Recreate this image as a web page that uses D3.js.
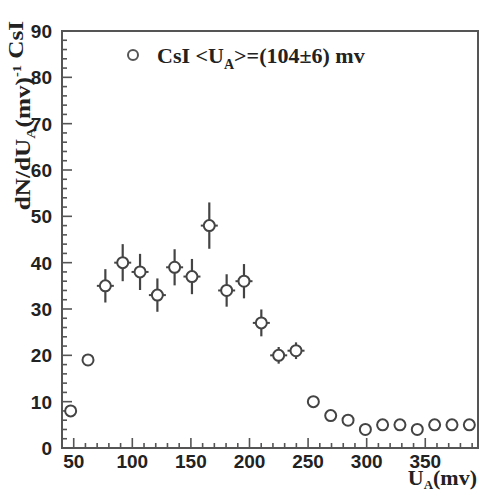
<!DOCTYPE html>
<html>
<head>
<meta charset="utf-8">
<script src="https://cdn.jsdelivr.net/npm/d3@7/dist/d3.min.js"></script>
<style>
  body { margin: 0; background: #fff; }
  .tick-label { font-family: "Liberation Sans", Arial, sans-serif; font-weight: bold; font-size: 19px; fill: #222; }
  .title { font-family: "Liberation Serif", "Times New Roman", serif; font-weight: bold; fill: #222; }
</style>
</head>
<body>
<script>
// bin centres (mv), counts and errors
var binCenters = [47.4, 62.2, 77.0, 91.8, 106.6, 121.4, 136.1, 150.9, 165.7, 180.5, 195.3, 210.1,
                  224.9, 239.7, 254.5, 269.3, 284.1, 298.9, 313.6, 328.4, 343.2, 358.0, 372.8, 387.6];
var counts = [8, 19, 35, 40, 38, 33, 39, 37, 48, 34, 36, 27,
              20, 21, 10, 7, 6, 4, 5, 5, 4, 5, 5, 5];
var errors = [0, 0, 3.6, 4.0, 3.9, 3.6, 3.9, 3.8, 5.0, 3.5, 3.7, 2.9,
              1.8, 1.8, 0, 0, 0, 0, 0, 0, 0, 0, 0, 0];
var xTicks = [50, 100, 150, 200, 250, 300, 350];
var yTicks = [0, 10, 20, 30, 40, 50, 60, 70, 80, 90];

var width = 491, height = 493;
var frame = { left: 62, right: 478, top: 31, bottom: 448 };

var svg = d3.select("body").append("svg")
    .attr("width", width)
    .attr("height", height);

var x = d3.scaleLinear().domain([40, 395]).range([frame.left, frame.right]);
var y = d3.scaleLinear().domain([0, 90]).range([frame.bottom, frame.top]);

var axisColor = "#555";

// frame
svg.append("rect")
    .attr("x", frame.left).attr("y", frame.top)
    .attr("width", frame.right - frame.left)
    .attr("height", frame.bottom - frame.top)
    .attr("fill", "none")
    .attr("stroke", axisColor)
    .attr("stroke-width", 2);

// y ticks (inside), major every 10, minor every 2
var yMinor = d3.range(0, 90.1, 2);
svg.append("g").selectAll("line")
    .data(yMinor)
    .enter().append("line")
    .attr("x1", frame.left)
    .attr("x2", function (d) { return frame.left + (d % 10 === 0 ? 10 : 5); })
    .attr("y1", function (d) { return y(d); })
    .attr("y2", function (d) { return y(d); })
    .attr("stroke", axisColor)
    .attr("stroke-width", 1.6);

svg.append("g").selectAll("text")
    .data(yTicks)
    .enter().append("text")
    .attr("class", "tick-label")
    .attr("x", 52)
    .attr("y", function (d) { return y(d) + 7; })
    .attr("text-anchor", "end")
    .text(function (d) { return d; });

// x ticks (inside), major every 50, minor every 10
var xMinor = d3.range(40, 395, 10);
svg.append("g").selectAll("line")
    .data(xMinor)
    .enter().append("line")
    .attr("x1", function (d) { return x(d); })
    .attr("x2", function (d) { return x(d); })
    .attr("y1", frame.bottom)
    .attr("y2", function (d) { return frame.bottom - (d % 50 === 0 ? 10 : 5); })
    .attr("stroke", axisColor)
    .attr("stroke-width", 1.6);

svg.append("g").selectAll("text")
    .data(xTicks)
    .enter().append("text")
    .attr("class", "tick-label")
    .attr("x", function (d) { return x(d); })
    .attr("y", 468)
    .attr("text-anchor", "middle")
    .text(function (d) { return d; });

// points with error bars (bar hidden when shorter than the marker)
var r = 5.5;
var pts = svg.append("g").selectAll("g")
    .data(counts)
    .enter().append("g");

pts.each(function (d, i) {
    var g = d3.select(this);
    var cx = x(binCenters[i]), cy = y(d);
    var e = y(d - errors[i]) - cy;
    if (e > r) {
        g.append("line").attr("x1", cx).attr("x2", cx)
            .attr("y1", cy - e).attr("y2", cy - r)
            .attr("stroke", "#444").attr("stroke-width", 2.2);
        g.append("line").attr("x1", cx).attr("x2", cx)
            .attr("y1", cy + r).attr("y2", cy + e)
            .attr("stroke", "#444").attr("stroke-width", 2.2);
        g.append("line").attr("x1", cx - r - 3).attr("x2", cx - r)
            .attr("y1", cy).attr("y2", cy)
            .attr("stroke", "#444").attr("stroke-width", 2);
        g.append("line").attr("x1", cx + r).attr("x2", cx + r + 3)
            .attr("y1", cy).attr("y2", cy)
            .attr("stroke", "#444").attr("stroke-width", 2);
    }
    g.append("circle")
        .attr("cx", cx).attr("cy", cy).attr("r", r)
        .attr("fill", "#fff")
        .attr("stroke", "#444")
        .attr("stroke-width", 2);
});

// legend
svg.append("circle")
    .attr("cx", 133).attr("cy", 55).attr("r", 5)
    .attr("fill", "none").attr("stroke", "#555").attr("stroke-width", 2);

var leg = svg.append("text")
    .attr("class", "title")
    .attr("x", 157).attr("y", 63)
    .attr("font-size", 22);
leg.append("tspan").text("CsI <U");
leg.append("tspan").attr("font-size", 14).attr("dy", 6).text("A");
leg.append("tspan").attr("dy", -6).text(">=(104\u00b16) mv");

// x title
var xt = svg.append("text")
    .attr("class", "title")
    .attr("x", 477).attr("y", 485)
    .attr("text-anchor", "end")
    .attr("font-size", 22);
xt.append("tspan").text("U");
xt.append("tspan").attr("font-size", 13).attr("dy", 4).text("A");
xt.append("tspan").attr("dy", -4).text("(mv)");

// y title
var yt = svg.append("text")
    .attr("class", "title")
    .attr("transform", "translate(30,21) rotate(-90) scale(1.2,1)")
    .attr("text-anchor", "end")
    .attr("font-size", 21);
yt.append("tspan").text("dN/dU");
yt.append("tspan").attr("font-size", 13).attr("dy", 5).text("A");
yt.append("tspan").attr("dy", -5).text("(mv)");
yt.append("tspan").attr("font-size", 12).attr("dy", -9).text("-1");
yt.append("tspan").attr("dy", 2).text(" CsI");
</script>
</body>
</html>
